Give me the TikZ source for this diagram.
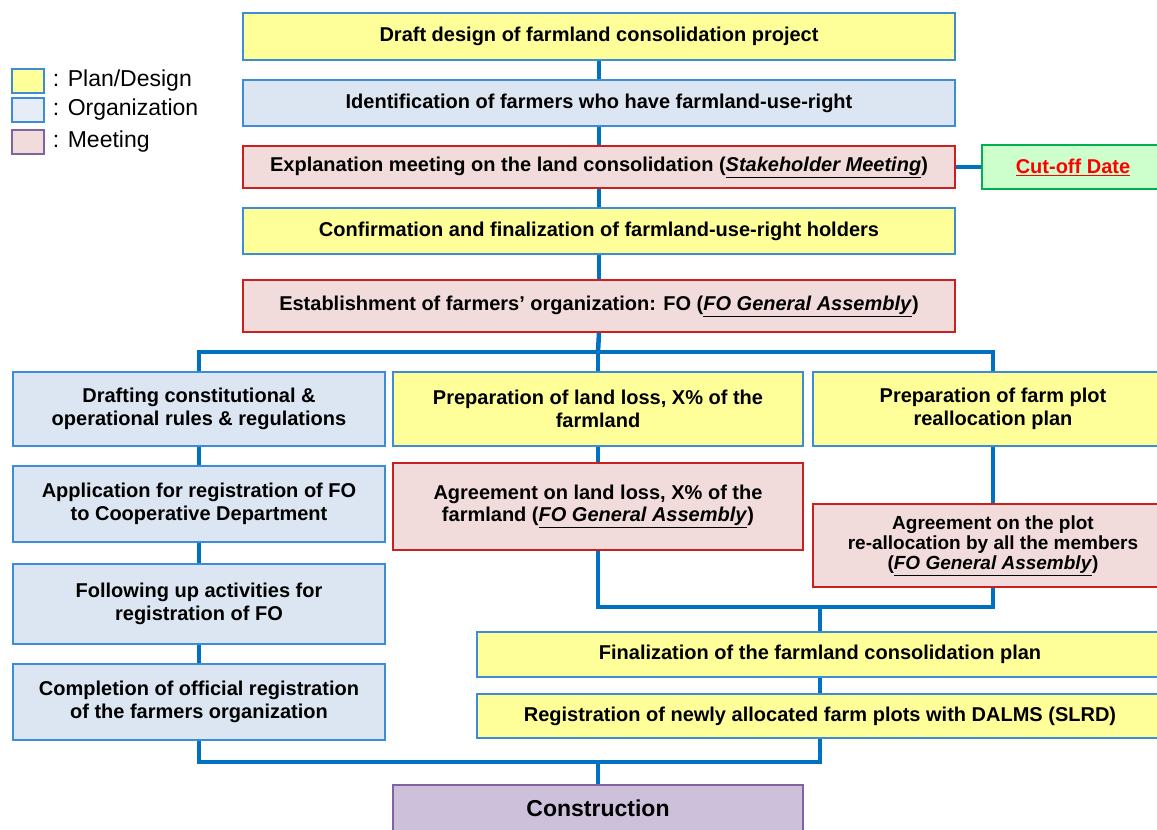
\documentclass[tikz,border=0pt]{standalone}
\usepackage{fontspec}
\setmainfont{Liberation Sans}
\usetikzlibrary{positioning}
\definecolor{fcplan}{HTML}{FFFF99}
\definecolor{fcorg}{HTML}{DCE6F2}
\definecolor{fcmeet}{HTML}{F2DCDB}
\definecolor{fcedge}{HTML}{3C8DD6}
\definecolor{fcred}{HTML}{CC1F1F}
\definecolor{fclink}{HTML}{0070C0}
\definecolor{fcgreen}{HTML}{CCFFCC}
\definecolor{fcgreenline}{HTML}{00B050}
\definecolor{fcbuild}{HTML}{CCC0DA}
\definecolor{fcpurple}{HTML}{8064A2}
\tikzset{
  box/.style={line width=1.6pt, align=center, inner sep=0pt, font=\bfseries\fontsize{20}{22.5}\selectfont},
  plan/.style={box, draw=fcedge, fill=fcplan},
  org/.style={box, draw=fcedge, fill=fcorg},
  meet/.style={box, draw=fcred, fill=fcmeet},
  cutbox/.style={box, draw=fcgreenline, fill=fcgreen, line width=2.4pt, text=red},
  build/.style={box, draw=fcpurple, fill=fcbuild, font=\bfseries\fontsize{23}{26}\selectfont},
  key/.style={line width=1.4pt, minimum width=32pt, minimum height=24pt, inner sep=0pt},
  keytxt/.style={anchor=west, font=\fontsize{23}{26}\selectfont, inner sep=0pt},
  link/.style={draw=fclink, line width=4.5pt},
}
\begin{document}
\begin{tikzpicture}[x=1pt, y=-1pt]
  \useasboundingbox (0,0) rectangle (1157,830);
  \clip (0,0) rectangle (1157,830);
  % legend
  \node[key, draw=fcedge, fill=fcplan] (kplan) at (28,81) {};
  \node[key, draw=fcedge, fill=fcorg!70!white] (korg) at (28,110) {};
  \node[key, draw=fcpurple, fill=fcmeet] (kmeet) at (28,142) {};
  \node[keytxt, right=8pt of kplan] (tplan) {: Plan/Design};
  \node[keytxt, right=8pt of korg] (torg) {: Organization};
  \node[keytxt, right=8pt of kmeet] (tmeet) {: Meeting};
  % main column
  \node[plan, minimum width=712pt, minimum height=47pt] (draft) at (599,36.5) {Draft design of farmland consolidation project};
  \node[org, minimum width=712pt, minimum height=46pt, below=18.4pt of draft] (ident) {Identification of farmers who have farmland-use-right};
  \node[meet, minimum width=712pt, minimum height=42pt, below=18.4pt of ident] (expl) {Explanation meeting on the land consolidation (\underline{\textit{Stakeholder Meeting}})};
  \node[cutbox, minimum width=182pt, minimum height=44pt, right=25pt of expl] (cutoff) {\underline{Cut-off Date}};
  \node[plan, minimum width=712pt, minimum height=46pt, below=18.4pt of expl] (confirm) {Confirmation and finalization of farmland-use-right holders};
  \node[meet, minimum width=712pt, minimum height=52pt, below=24.4pt of confirm] (estab) {Establishment of farmers' organization: FO (\underline{\textit{FO General Assembly}})};
  % organization branch
  \node[org, minimum width=372pt, minimum height=74pt] (rules) at (199,409) {Drafting constitutional \&\\operational rules \& regulations};
  \node[org, minimum width=372pt, minimum height=76pt, below=18.4pt of rules] (apply) {Application for registration of FO\\to Cooperative Department};
  \node[org, minimum width=372pt, minimum height=80pt, below=20.4pt of apply] (follow) {Following up activities for\\registration of FO};
  \node[org, minimum width=372pt, minimum height=76pt, below=18.4pt of follow] (complete) {Completion of official registration\\of the farmers organization};
  % land loss branch
  \node[plan, minimum width=410pt, minimum height=74pt] (preploss) at (598,409) {Preparation of land loss, X\% of the\\farmland};
  \node[meet, minimum width=410pt, minimum height=87pt, below=15.4pt of preploss] (agreeloss) {Agreement on land loss, X\% of the\\farmland (\underline{\textit{FO General Assembly}})};
  % plot reallocation branch
  \node[plan, minimum width=360pt, minimum height=74pt] (prepplot) at (993,409) {Preparation of farm plot\\reallocation plan};
  \node[meet, minimum width=360pt, minimum height=83pt, below=56.4pt of prepplot, font=\bfseries\fontsize{19}{20}\selectfont] (agreeplot) {Agreement on the plot\\re-allocation by all the members\\(\underline{\textit{FO General Assembly}})};
  \node[plan, minimum width=686pt, minimum height=45pt] (final) at (820,654.5) {Finalization of the farmland consolidation plan};
  \node[plan, minimum width=686pt, minimum height=44pt, below=15.4pt of final] (regist) {Registration of newly allocated farm plots with DALMS (SLRD)};
  \node[build, minimum width=410pt, minimum height=46pt] (constr) at (598,808) {Construction};
  % connectors
  \coordinate (split) at (598,352);
  \coordinate (merge) at (820,607);
  \coordinate (join) at (598,762);
  \draw[link] (draft) -- (ident);
  \draw[link] (ident) -- (expl);
  \draw[link] (expl) -- (confirm);
  \draw[link] (confirm) -- (estab);
  \draw[link] (expl.east) -- (cutoff.west);
  \draw[link] (estab.south) -- (split);
  \draw[link] (rules.north) |- (split) -| (prepplot.north);
  \draw[link] (split) -- (preploss.north);
  \draw[link] (rules) -- (apply);
  \draw[link] (apply) -- (follow);
  \draw[link] (follow) -- (complete);
  \draw[link] (preploss) -- (agreeloss);
  \draw[link] (prepplot) -- (agreeplot);
  \draw[link] (agreeloss.south) |- (merge) -| (agreeplot.south);
  \draw[link] (merge) -- (final.north);
  \draw[link] (final) -- (regist);
  \draw[link] (complete.south) |- (join) -| (regist.south);
  \draw[link] (join) -- (constr.north);
\end{tikzpicture}
\end{document}
